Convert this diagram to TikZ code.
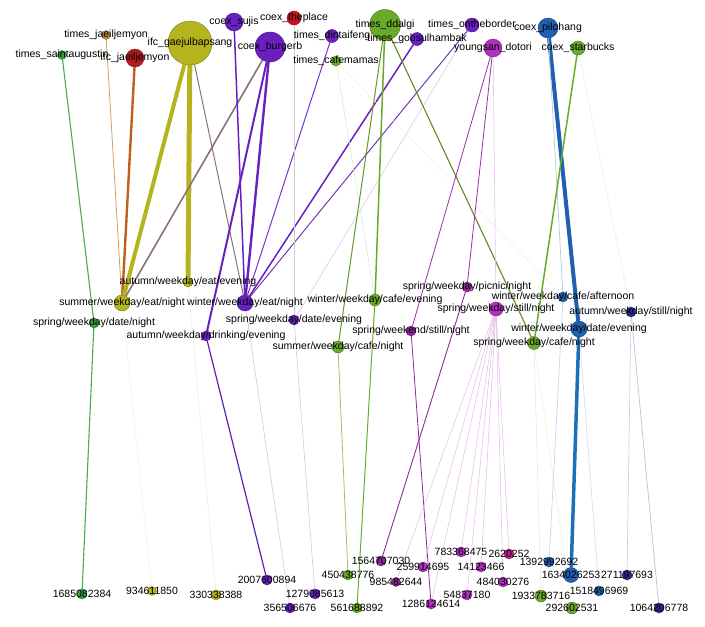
\documentclass[tikz,border=0pt]{standalone}
\usepackage{fontspec}
\newfontfamily\lbfont{Liberation Sans}
\usepackage{xcolor}
\usepackage{tikz}
\usetikzlibrary{backgrounds}
\definecolor{grn}{HTML}{3A9E3A}
\definecolor{tanc}{HTML}{C08A40}
\definecolor{redd}{HTML}{B01C1C}
\definecolor{olv}{HTML}{B5B41E}
\definecolor{pur}{HTML}{6A1FC0}
\definecolor{redc}{HTML}{C4161C}
\definecolor{lime}{HTML}{6AAA2A}
\definecolor{mag}{HTML}{B030C0}
\definecolor{dmag}{HTML}{8E2A98}
\definecolor{blu}{HTML}{1F60B0}
\definecolor{dblu}{HTML}{2A2A8E}
\definecolor{pnk}{HTML}{C0208E}
\definecolor{mixb}{HTML}{8C7078}
\definecolor{orng}{HTML}{C0601E}
\tikzset{
  nd/.style={circle,draw=#1!70!black,fill=#1,inner sep=0pt,line width=0.4pt},
  lb/.style={font=\lbfont\fontsize{10.5}{12}\selectfont,inner sep=0pt,text=black},
  eg/.style={line width=#1}
}

\begin{document}
\begin{tikzpicture}[x=1pt,y=-1pt]
\useasboundingbox (0,0) rectangle (705,627);
% places
\node[nd=grn,minimum size=9pt,label={[lb]center:times\_saintaugustin}] (saint) at (62,55) {};
\node[nd=tanc,minimum size=9pt,label={[lb]center:times\_jaeiljemyon}] (timesjae) at (106,35) {};
\node[nd=redd,minimum size=18pt,label={[lb]center:ifc\_jaeiljemyon}] (ifcjae) at (135,58) {};
\node[nd=olv,minimum size=44pt,label={[lb]center:ifc\_gaejulbapsang}] (gaejul) at (190,43) {};
\node[nd=pur,minimum size=18pt,label={[lb]center:coex\_sujis}] (sujis) at (234,22) {};
\node[nd=redc,minimum size=14pt,label={[lb]center:coex\_theplace}] (theplace) at (294,18) {};
\node[nd=pur,minimum size=30pt,label={[lb]center:coex\_burgerb}] (burgerb) at (270,47) {};
\node[nd=pur,minimum size=13pt,label={[lb]center:times\_dintaifeng}] (dintai) at (332,36) {};
\node[nd=lime,minimum size=10pt,label={[lb]center:times\_cafemamas}] (cafemamas) at (336,61) {};
\node[nd=lime,minimum size=31pt,label={[lb]center:times\_ddalgi}] (ddalgi) at (385,25) {};
\node[nd=pur,minimum size=13pt,label={[lb]center:times\_gobsulhambak}] (gobsul) at (417,39) {};
\node[nd=pur,minimum size=14pt,label={[lb]center:times\_ontheborder}] (onthe) at (472,25) {};
\node[nd=mag,minimum size=18pt,label={[lb]center:youngsan\_dotori}] (dotori) at (493,48) {};
\node[nd=blu,minimum size=20pt,label={[lb]center:coex\_pilohang}] (pohang) at (548,28) {};
\node[nd=lime,minimum size=14pt,label={[lb]center:coex\_starbucks}] (starbucks) at (578,48) {};
% situations
\node[nd=olv,minimum size=10pt,label={[lb]center:autumn/weekday/eat/evening}] (auEatE) at (188,282) {};
\node[nd=olv,minimum size=16pt,label={[lb]center:summer/weekday/eat/night}] (suEatN) at (122,303) {};
\node[nd=pur,minimum size=16pt,label={[lb]center:winter/weekday/eat/night}] (wiEatN) at (245,303) {};
\node[nd=grn,minimum size=10pt,label={[lb]center:spring/weekday/date/night}] (spDateN) at (94,323) {};
\node[nd=pur,minimum size=10pt,label={[lb]center:autumn/weekday/drinking/evening}] (auDrinkE) at (206,336) {};
\node[nd=pur,minimum size=10pt,label={[lb]center:spring/weekday/date/evening}] (spDateE) at (294,320) {};
\node[nd=lime,minimum size=12pt,label={[lb]center:winter/weekday/cafe/evening}] (wiCafeE) at (375,300) {};
\node[nd=lime,minimum size=12pt,label={[lb]center:summer/weekday/cafe/night}] (suCafeN) at (338,347) {};
\node[nd=dmag,minimum size=10pt,label={[lb]center:spring/weekday/picnic/night}] (spPicnicN) at (467,287) {};
\node[nd=mag,minimum size=14pt,label={[lb]center:spring/weekday/still/night}] (spStillN) at (496,309) {};
\node[nd=dmag,minimum size=10pt,label={[lb]center:spring/weekend/still/night}] (spWeStillN) at (411,331) {};
\node[nd=blu,minimum size=10pt,label={[lb]center:winter/weekday/cafe/afternoon}] (wiCafeA) at (563,297) {};
\node[nd=dblu,minimum size=10pt,label={[lb]center:autumn/weekday/still/night}] (auStillN) at (631,312) {};
\node[nd=blu,minimum size=16pt,label={[lb]center:winter/weekday/date/evening}] (wiDateE) at (579,329) {};
\node[nd=lime,minimum size=13pt,label={[lb]center:spring/weekday/cafe/night}] (spCafeN) at (534,343) {};
% users
\node[nd=grn,minimum size=10pt,label={[lb]center:1685082384}] (u1685) at (82,594) {};
\node[nd=olv,minimum size=9pt,label={[lb]center:934611850}] (u9346) at (152,591) {};
\node[nd=olv,minimum size=10pt,label={[lb]center:330338388}] (u3303) at (216,595) {};
\node[nd=pur,minimum size=10pt,label={[lb]center:2007600894}] (u2007) at (267,580) {};
\node[nd=pur,minimum size=10pt,label={[lb]center:356506676}] (u3565) at (290,608) {};
\node[nd=pur,minimum size=10pt,label={[lb]center:1279085613}] (u1279) at (315,594) {};
\node[nd=lime,minimum size=10pt,label={[lb]center:450438776}] (u4504) at (348,575) {};
\node[nd=lime,minimum size=10pt,label={[lb]center:561688892}] (u5616) at (357,608) {};
\node[nd=dmag,minimum size=10pt,label={[lb]center:1564707030}] (u1564) at (381,561) {};
\node[nd=dmag,minimum size=9pt,label={[lb]center:985482644}] (u9854) at (396,582) {};
\node[nd=mag,minimum size=10pt,label={[lb]center:259914695}] (u2599) at (423,567) {};
\node[nd=mag,minimum size=10pt,label={[lb]center:1286124614}] (u1286) at (431,604) {};
\node[nd=mag,minimum size=10pt,label={[lb]center:783368475}] (u7833) at (461,552) {};
\node[nd=mag,minimum size=10pt,label={[lb]center:14123466}] (u1412) at (481,567) {};
\node[nd=pnk,minimum size=10pt,label={[lb]center:2620252}] (u2620) at (509,554) {};
\node[nd=mag,minimum size=10pt,label={[lb]center:54837180}] (u5483) at (467,595) {};
\node[nd=mag,minimum size=10pt,label={[lb]center:484030276}] (u4840) at (503,582) {};
\node[nd=blu,minimum size=10pt,label={[lb]center:1392992692}] (u1392) at (549,562) {};
\node[nd=lime,minimum size=12pt,label={[lb]center:1933783716}] (u1933) at (541,596) {};
\node[nd=blu,minimum size=15pt,label={[lb]center:1634026253}] (u1634) at (571,575) {};
\node[nd=dblu,minimum size=10pt,label={[lb]center:271197693}] (u2711) at (627,575) {};
\node[nd=blu,minimum size=10pt,label={[lb]center:1518496969}] (u1518) at (599,591) {};
\node[nd=lime,minimum size=12pt,label={[lb]center:292602531}] (u2926) at (572,608) {};
\node[nd=dblu,minimum size=10pt,label={[lb]center:1064206778}] (u1064) at (659,608) {};
\begin{pgfonlayer}{background}
% top to situations
\draw[eg=1.1,grn!90] (saint) -- (spDateN) -- (u1685);
\draw[eg=0.8,tanc!80] (timesjae) -- (suEatN);
\draw[eg=2.4,orng] (ifcjae) -- (suEatN);
\draw[eg=4,olv] (gaejul) -- (suEatN);
\draw[eg=5,olv] (gaejul) -- (auEatE);
\draw[eg=1,mixb] (gaejul) -- (wiEatN);
\draw[eg=1.6,mixb] (burgerb) -- (suEatN);
\draw[eg=1.5,pur] (sujis) -- (wiEatN);
\draw[eg=2.4,pur] (burgerb) -- (wiEatN);
\draw[eg=2,pur] (burgerb) -- (auDrinkE);
\draw[eg=1,pur!90] (dintai) -- (wiEatN);
\draw[eg=1.5,pur] (gobsul) -- (wiEatN);
\draw[eg=1,pur!70!gray] (onthe) -- (wiEatN);
\draw[eg=0.8,pur!20] (onthe) -- (spDateE);
\draw[eg=0.7,black!20] (theplace) -- (spDateE);
\draw[eg=0.6,lime!25] (cafemamas) -- (wiCafeE);
\draw[eg=0.5,black!7] (cafemamas) -- (wiCafeA);
\draw[eg=1.5,lime] (ddalgi) -- (wiCafeE);
\draw[eg=1,lime!90!black] (ddalgi) -- (suCafeN);
\draw[eg=1.1,lime!70!olv!80!black] (ddalgi) -- (spCafeN);
\draw[eg=0.8,mag!90!black] (dotori) -- (spWeStillN);
\draw[eg=0.8,mag!90!black] (dotori) -- (spPicnicN);
\draw[eg=0.6,mag!30] (dotori) -- (spStillN);
\draw[eg=4,blu] (pohang) -- (wiDateE);
\draw[eg=0.7,blu!35] (pohang) -- (wiCafeA);
\draw[eg=1.5,lime] (starbucks) -- (spCafeN);
\draw[eg=0.6,black!8] (starbucks) -- (auStillN);
% situations to users
\draw[eg=0.8,olv!12] (suEatN) -- (u9346);
\draw[eg=0.8,olv!18] (auEatE) -- (u3303);
\draw[eg=1.2,pur!85!black] (auDrinkE) -- (u2007);
\draw[eg=0.7,pur!25] (wiEatN) -- (u3565);
\draw[eg=0.7,pur!25] (spDateE) -- (u1279);
\draw[eg=0.8,lime!70] (suCafeN) -- (u4504);
\draw[eg=1,lime] (wiCafeE) -- (u5616);
\draw[eg=0.8,dmag] (spWeStillN) -- (u1286);
\draw[eg=0.9,dmag] (spPicnicN) -- (u1564);
\foreach \t in {u9854,u2599,u1286,u7833,u5483,u1412,u4840,u2620}
  \draw[eg=0.5,mag!35] (spStillN) -- (\t);
\draw[eg=0.6,lime!20] (spCafeN) -- (u1933);
\draw[eg=0.6,olv!20] (spCafeN) -- (u2926);
\draw[eg=0.6,blu!30] (wiCafeA) -- (u1392);
\draw[eg=3.5,blu!90!cyan] (wiDateE) -- (u1634);
\draw[eg=0.6,blu!22] (wiDateE) -- (u1518);
\draw[eg=0.6,dblu!25] (auStillN) -- (u2711);
\draw[eg=0.7,dblu!30] (auStillN) -- (u1064);
\end{pgfonlayer}
\end{tikzpicture}
\end{document}
